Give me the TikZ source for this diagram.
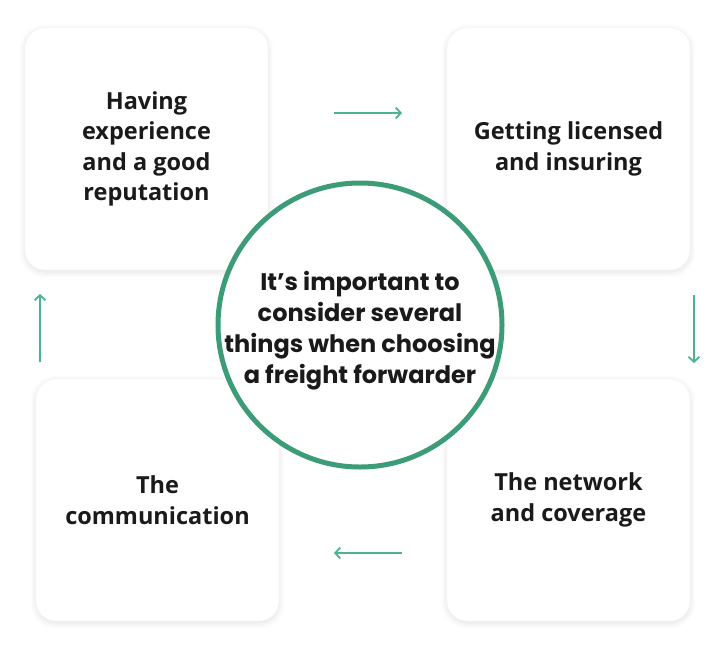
\documentclass[tikz,border=0pt]{standalone}
\usepackage{fontspec}
\setmainfont{Fira Sans}
\newfontfamily\boxfont{Open Sans}
\newfontfamily\hubfont{Poppins}
\usepackage{tikz}
\usetikzlibrary{arrows.meta,shadows.blur,positioning}
\definecolor{ringgreen}{HTML}{3D9C78}
\definecolor{arrowgreen}{HTML}{4DB38C}
\definecolor{inktext}{HTML}{1A1A1A}
\tikzset{
    factor/.style={draw=gray!8, fill=white, rounded corners=20pt, minimum width=243pt,
        minimum height=242pt, align=center, font=\boxfont\bfseries\fontsize{23.5}{30.5}\selectfont,
        text=inktext, blur shadow={shadow blur steps=8, shadow xshift=0pt,
        shadow yshift=-2pt, shadow opacity=12, shadow blur radius=6pt}},
    hub/.style={circle, draw=ringgreen, line width=5pt, fill=white, minimum size=284pt,
        inner sep=0pt},
    hubtext/.style={align=center, inner sep=0pt, font=\hubfont\bfseries\fontsize{24}{31}\selectfont,
        text=inktext},
    flow/.style={draw=arrowgreen, line width=1.8pt, -{Straight Barb[length=5pt,width=11pt,line width=1.8pt]}}
}

\begin{document}
\begin{tikzpicture}[x=1pt, y=-1pt]
    \useasboundingbox (0,0) rectangle (712,649);

    \node[factor] (exp) at (146.5,149) {Having\\experience\\and a good\\reputation};
    \node[factor] (lic) at (568.5,149) {Getting licensed\\and insuring};
    \node[factor] (com) at (157.5,500) {The\\communication};
    \node[factor] (net) at (568.5,500) {The network\\and coverage};

    \node[hub] (core) at (360,325) {};
    \node[hubtext] (coretext) at ([yshift=-6pt]core.center)
        {It’s important to\\consider several\\things when choosing\\a freight forwarder};

    \coordinate (topA) at (334,113);
    \coordinate (topB) at (402,113);
    \coordinate (rgtA) at (694,295);
    \coordinate (rgtB) at (694,363);
    \coordinate (botA) at (402,553);
    \coordinate (botB) at (334,553);
    \coordinate (lftA) at (40,362);
    \coordinate (lftB) at (40,294);

    \draw[flow] (topA) -- (topB);
    \draw[flow] (rgtA) -- (rgtB);
    \draw[flow] (botA) -- (botB);
    \draw[flow] (lftA) -- (lftB);

\end{tikzpicture}
\end{document}
